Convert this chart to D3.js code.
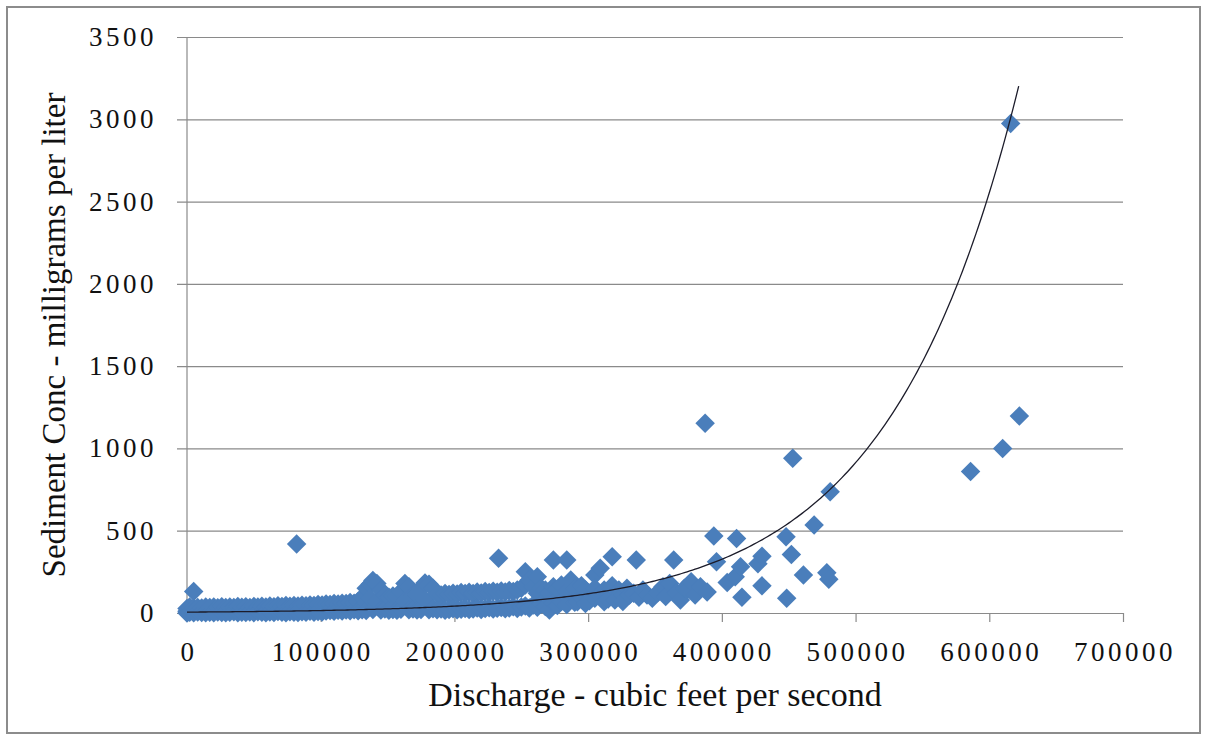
<!DOCTYPE html>
<html>
<head>
<meta charset="utf-8">
<script src="https://cdn.jsdelivr.net/npm/d3@7"></script>
<style>
  html, body { margin: 0; padding: 0; background: #fff; }
  svg { display: block; }
  text { font-family: "Liberation Serif", "DejaVu Serif", serif; fill: #111; }
</style>
</head>
<body>
<svg id="chart" width="1207" height="740"></svg>
<script>
// Axis ticks
const xTicks = [0, 100000, 200000, 300000, 400000, 500000, 600000, 700000];
const yTicks = [0, 500, 1000, 1500, 2000, 2500, 3000, 3500];

// Axis titles
const xTitle = "Discharge - cubic feet per second";
const yTitle = "Sediment Conc - milligrams per liter";

// Paired samples: [discharge (cfs), sediment concentration (mg/L)]
const lowFlowSamples = [
  [0,28],[0,10],[0,0],[2000,36],[2000,4],[5000,130],[5000,31],[5000,2],[8000,34],[8000,6],
  [11000,31],[11000,3],[14000,37],[14000,1],[17000,33],[17000,5],[20000,36],[20000,2],
  [23000,32],[23000,6],[26000,38],[26000,3],[29000,34],[29000,1],[32000,37],[32000,4],
  [35000,33],[35000,7],[38000,39],[38000,2],[41000,35],[41000,5],[44000,38],[44000,3],
  [47000,34],[47000,6],[50000,40],[50000,2],[53000,36],[53000,8],[56000,41],[56000,4],
  [59000,37],[59000,2],[62000,42],[62000,6],[65000,38],[65000,3],[68000,44],[68000,9],
  [71000,40],[71000,4],[74000,45],[74000,2],[77000,41],[77000,7],[80000,46],[80000,5],
  [82000,420],[83000,42],[83000,3],[86000,47],[86000,8],[89000,44],[89000,5],[92000,49],
  [92000,10],[95000,46],[95000,4],[98000,51],[98000,9],[101000,48],[101000,6],[104000,54],
  [104000,12],[107000,51],[107000,15],[110000,57],[110000,10],[113000,54],[113000,16],
  [116000,60],[116000,12],[119000,57],[119000,18],[122000,64],[122000,14],[125000,60],
  [125000,19],[128000,70],[128000,13],[131000,95],[131000,20],[134000,150],[134000,60],
  [134000,15],[137000,175],[137000,90],[139000,198],[139000,22],[142000,180],[142000,70],
  [145000,140],[145000,18],[148000,110],[148000,24],[151000,96],[151000,16],[154000,104],
  [154000,21],[157000,100],[157000,17],[160000,130],[160000,23],[163000,180],[163000,75],
  [166000,160],[166000,19],[169000,108],[169000,25],[172000,112],[172000,18],[175000,150],
  [175000,22],[178000,182],[178000,80],[181000,175],[181000,20],[184000,150],[184000,26],
  [187000,115],[187000,19],[190000,110],[190000,24],[193000,118],[193000,17],[196000,112],
  [196000,22],[199000,120],[199000,26],[202000,115],[202000,19],[205000,124],[205000,23],
  [208000,118],[208000,28],[211000,126],[211000,21],[214000,119],[214000,25],[217000,128],
  [217000,30],[220000,122],[220000,22],[223000,130],[223000,27],[226000,124],[226000,32],
  [229000,132],[229000,24],[232000,126],[232000,29],[233000,332],[235000,134],[235000,34],
  [238000,128],[238000,26],[241000,136],[241000,31],[244000,130],[244000,38],[247000,140],
  [247000,28],[250000,150],[250000,36],[253000,251],[253000,170],[253000,42],[256000,200],
  [256000,30],[259000,160],[259000,48],[262000,221],[262000,120],[262000,35],[265000,150],
  [265000,55],[268000,140],[268000,40],[271000,120],[271000,18],[274000,322],[274000,160],
  [274000,60],[277000,145],[277000,45],[280000,170],[280000,70],[284000,322],[284000,130],
  [284000,52],[287000,200],[287000,85],[290000,150],[290000,65],[292000,69],[295000,165],
  [295000,95],[298000,140],[298000,58],[301000,120],[301000,75],[305000,231],[305000,150],
  [305000,90],[309000,272],[309000,110],[312000,140],[312000,68],[315000,125],[315000,85],
  [318000,342],[318000,165],[320000,79],[323000,140],[326000,110],[326000,70],[329000,150],
  [331000,109],[334000,120],[336000,322],[338000,95],[341000,140],[344000,110],[348000,89],
  [352000,125],[356000,160],[358000,100],[361000,180],[364000,322],[366000,120],[369000,79],
  [372000,150],[374000,140],[377000,190],[380000,110],[384000,160],[389000,128]
];

const highFlowSamples = [
  [387500,1153],[394000,468],[396000,312],[404000,185],[410000,221],[411000,452],
  [414000,281],[415000,95],[427000,300],[430000,345],[430000,165],[448000,464],
  [448500,89],[452000,355],[453000,940],[461000,231],[469000,535],[478500,245],
  [480000,205],[481000,737],[586000,860],[610000,1000],[616000,2975],[622500,1197]
];

// Exponential trendline  y = a * e^(b x)
const trendA = 5.35;
const trendB = 1.028e-5;
const trendStart = 0;
const trendEnd = 622000;

const svg = d3.select("#chart");
const plotLeft = 187, plotRight = 1123, plotTop = 37, plotBottom = 613;

const x = d3.scaleLinear().domain([0, 700000]).range([plotLeft, plotRight]);
const y = d3.scaleLinear().domain([0, 3500]).range([plotBottom, plotTop]);

const gridColor = "#8a8a8a";

// Outer frame
svg.append("rect")
  .attr("x", 7).attr("y", 7).attr("width", 1193).attr("height", 726)
  .attr("fill", "#fff").attr("stroke", "#8c8c8c").attr("stroke-width", 2);

// Horizontal gridlines (and x-axis baseline) from the y axis ticks
const yAxis = d3.axisLeft(y).tickValues(yTicks).tickFormat("");
svg.append("g")
  .attr("transform", `translate(${plotLeft},0)`)
  .call(g => {
    g.call(yAxis);
    g.select(".domain").remove();
    g.selectAll(".tick line")
      .attr("x1", -10).attr("x2", plotRight - plotLeft)
      .attr("stroke", gridColor).attr("stroke-width", 1.2);
  });

// Vertical axis line
svg.append("line")
  .attr("x1", plotLeft).attr("x2", plotLeft).attr("y1", plotTop).attr("y2", plotBottom)
  .attr("stroke", gridColor).attr("stroke-width", 1.2);

// X axis tick marks
const xAxis = d3.axisBottom(x).tickValues(xTicks).tickSize(9).tickFormat("");
svg.append("g")
  .attr("transform", `translate(0,${plotBottom})`)
  .call(g => {
    g.call(xAxis);
    g.select(".domain").remove();
    g.selectAll(".tick line").attr("stroke", gridColor).attr("stroke-width", 1.2);
  });

// Y tick labels
svg.append("g").selectAll("text")
  .data(yTicks).join("text")
  .attr("x", 157).attr("y", d => y(d) + 9)
  .attr("text-anchor", "end")
  .style("font-size", "27px")
  .style("letter-spacing", "3.5px")
  .text(d => d);

// X tick labels
svg.append("g").selectAll("text")
  .data(xTicks).join("text")
  .attr("x", d => x(d) + 2).attr("y", 661)
  .attr("text-anchor", "middle")
  .style("font-size", "27px")
  .style("letter-spacing", "3.5px")
  .text(d => d);

// Axis titles
svg.append("text")
  .attr("x", (plotLeft + plotRight) / 2).attr("y", 706)
  .attr("text-anchor", "middle")
  .style("font-size", "34px")
  .text(xTitle);

svg.append("text")
  .attr("transform", `translate(65,${(plotTop + plotBottom) / 2 + 10}) rotate(-90)`)
  .attr("text-anchor", "middle")
  .style("font-size", "33px")
  .text(yTitle);

// Sample markers
const diamond = d3.symbol().type(d3.symbolSquare).size(190);
const samples = lowFlowSamples.concat(highFlowSamples);
svg.append("g").selectAll("path")
  .data(samples).join("path")
  .attr("d", diamond)
  .attr("transform", d => `translate(${x(d[0])},${y(d[1])}) rotate(45)`)
  .attr("fill", "#4a7ebb");

// Exponential trendline
const trendPts = d3.range(trendStart, trendEnd + 1, 2000).map(q => [q, trendA * Math.exp(trendB * q)]);
svg.append("path")
  .datum(trendPts)
  .attr("fill", "none")
  .attr("stroke", "#1c1c2a")
  .attr("stroke-width", 1.3)
  .attr("d", d3.line().x(d => x(d[0])).y(d => y(d[1])));
</script>
</body>
</html>
